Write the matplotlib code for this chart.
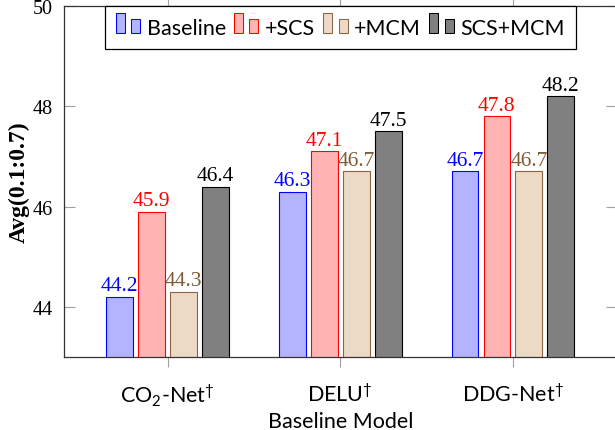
import numpy as np
import matplotlib.pyplot as plt
from matplotlib.patches import Rectangle
from matplotlib.legend_handler import HandlerBase

# Data
models = ["CO$_2$-Net$^{\\dagger}$", "DELU$^{\\dagger}$", "DDG-Net$^{\\dagger}$"]
methods = ["Baseline", "+SCS", "+MCM", "SCS+MCM"]
baseline = [44.2, 46.3, 46.7]
scs = [45.9, 47.1, 47.8]
mcm = [44.3, 46.7, 46.7]
scs_mcm = [46.4, 47.5, 48.2]
yticks = [44, 46, 48, 50]

series = [baseline, scs, mcm, scs_mcm]
fills = ["#b3b3ff", "#ffb3b3", "#ecdac6", "#808080"]
edges = ["#0000ff", "#ff0000", "#8b6443", "#000000"]
label_colors = ["#0000ff", "#ff0000", "#7f5a36", "#000000"]

SANS = "Lato"
SERIF = "Liberation Serif"
plt.rcParams["mathtext.fontset"] = "custom"
plt.rcParams["mathtext.rm"] = SANS
plt.rcParams["mathtext.default"] = "regular"


class TwoBarHandler(HandlerBase):
    # pgfplots style ybar legend: a tall bar and a short bar
    def create_artists(self, legend, orig_handle, xdescent, ydescent,
                       width, height, fontsize, trans):
        fc = orig_handle.get_facecolor()
        ec = orig_handle.get_edgecolor()
        w = width * 0.37
        y0 = 0.05 * fontsize
        tall = Rectangle((-xdescent, y0), w, 0.92 * fontsize,
                         facecolor=fc, edgecolor=ec, lw=0.75, transform=trans)
        short = Rectangle((-xdescent + width - w, y0), w, 0.64 * fontsize,
                          facecolor=fc, edgecolor=ec, lw=0.75, transform=trans)
        return [tall, short]


fig = plt.figure(figsize=(6.15, 4.31), dpi=100)
ax = fig.add_axes([64 / 615, (431 - 357.7) / 431, (616.5 - 64) / 615, (357.7 - 7.3) / 431])

x = np.arange(len(models))
bar_w = 0.155
step = 0.185
handles = []
for i, vals in enumerate(series):
    pos = x + (i - 1.5) * step
    bars = ax.bar(pos, vals, width=bar_w, bottom=0, color=fills[i],
                  edgecolor=edges[i], linewidth=0.8, zorder=2)
    handles.append(bars[0])
    for xp, v in zip(pos, vals):
        ax.annotate(f"{v:.1f}", (xp, v), xytext=(0, 1), textcoords="offset points",
                    ha="center", va="bottom", color=label_colors[i],
                    fontsize=15.5, family=SERIF, zorder=3)

ax.set_xlim(-0.6, 2.6)
ax.set_ylim(43, 50)
ax.set_xticks(x)
ax.set_xticklabels(models, fontsize=15.5, family=SANS)
ax.set_yticks(yticks)
ax.set_yticklabels([str(t) for t in yticks], fontsize=14.5, family=SERIF)

ax.tick_params(axis="x", direction="out", length=7.2, width=0.8, color="#a0a0a0",
               top=True, pad=11)
ax.tick_params(axis="y", direction="in", length=8, width=0.8, color="#a0a0a0",
               right=True, pad=8)
for sp in ax.spines.values():
    sp.set_color("#333333")
    sp.set_linewidth(0.9)

ax.set_xlabel("Baseline Model", fontsize=15.5, family=SANS, labelpad=2)
ax.set_ylabel("Avg(0.1:0.7)", fontsize=17, family=SERIF, fontweight="bold", labelpad=2)

leg = ax.legend(handles, methods, loc="upper center", bbox_to_anchor=(0.5, 1.0),
                ncol=4, borderaxespad=0, fancybox=False, framealpha=1,
                edgecolor="black", handlelength=1.13, handleheight=1.0,
                handletextpad=0.31, columnspacing=0.38, borderpad=0.5,
                prop={"family": SANS, "size": 15.5},
                handler_map={h: TwoBarHandler() for h in handles})
leg.get_frame().set_linewidth(0.9)
leg.set_zorder(5)

fig.savefig("out.png", dpi=100)
